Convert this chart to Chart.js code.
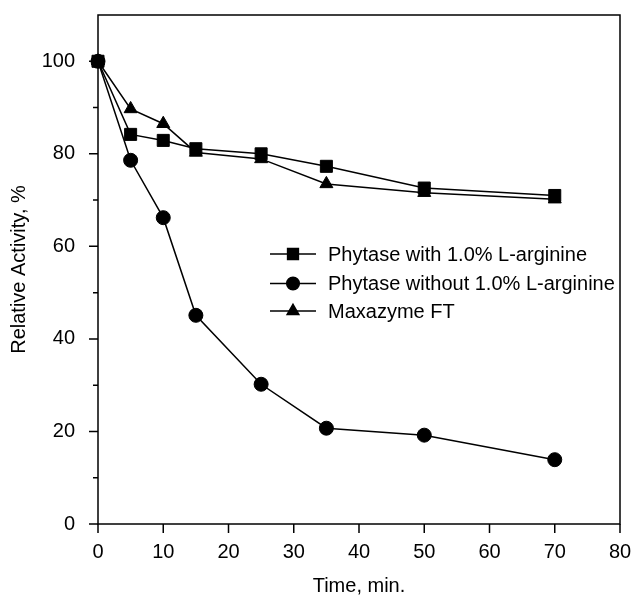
<!DOCTYPE html>
<html>
<head>
<meta charset="utf-8">
<script src="https://cdn.jsdelivr.net/npm/chart.js@4.4.1/dist/chart.umd.min.js"></script>
<style>
  html, body { margin: 0; padding: 0; background: #fff; }
  #wrap { width: 636px; height: 596px; }
</style>
</head>
<body>
<div id="wrap"><canvas id="myChart" width="636" height="596"></canvas></div>
<script>
// time points (min)
const times = [0, 5, 10, 15, 25, 35, 50, 70];

// relative activity, %
const withArginine = [100, 84.2, 82.9, 81.1, 80.0, 77.3, 72.6, 71.0];
const withoutArginine = [100, 78.6, 66.2, 45.1, 30.2, 20.7, 19.2, 13.9];
const maxazyme = [100, 89.7, 86.5, 80.3, 78.9, 73.5, 71.6, 70.2];

const seriesLabels = [
    "Phytase with 1.0% L-arginine",
    "Phytase without 1.0% L-arginine",
    "Maxazyme FT",
];

const xTicks = [0, 10, 20, 30, 40, 50, 60, 70, 80];
const yTicks = [0, 20, 40, 60, 80, 100];
const yMinorTicks = [10, 30, 50, 70, 90];

const FONT = "'Liberation Sans', Arial, sans-serif";

function toPoints(values) {
    return times.map((t, i) => ({ x: t, y: values[i] }));
}

// frame + hand drawn ticks (major / minor)
const framePlugin = {
    id: "frame",
    afterDraw(chart) {
        const ctx = chart.ctx;
        const a = chart.chartArea;
        const xs = chart.scales.x;
        const ys = chart.scales.y;
        ctx.save();
        ctx.strokeStyle = "#000";
        ctx.lineWidth = 1.5;
        ctx.strokeRect(a.left, a.top, a.right - a.left, a.bottom - a.top);

        ctx.beginPath();
        xTicks.forEach(v => {
            const px = xs.getPixelForValue(v);
            ctx.moveTo(px, a.bottom);
            ctx.lineTo(px, a.bottom + 9);
        });
        yTicks.forEach(v => {
            const py = ys.getPixelForValue(v);
            ctx.moveTo(a.left, py);
            ctx.lineTo(a.left - 9, py);
        });
        yMinorTicks.forEach(v => {
            const py = ys.getPixelForValue(v);
            ctx.moveTo(a.left, py);
            ctx.lineTo(a.left - 5, py);
        });
        ctx.stroke();
        ctx.restore();
    },
};

// legend drawn inside the plot
const legendPlugin = {
    id: "innerLegend",
    afterDatasetsDraw(chart) {
        const ctx = chart.ctx;
        const rows = [254, 283.5, 311];
        ctx.save();
        chart.data.datasets.forEach((ds, i) => {
            const y = rows[i];
            ctx.strokeStyle = "#000";
            ctx.lineWidth = 1.5;
            ctx.beginPath();
            ctx.moveTo(270, y);
            ctx.lineTo(316, y);
            ctx.stroke();
            ctx.fillStyle = "#000";
            Chart.helpers.drawPoint(ctx, {
                pointStyle: ds.pointStyle,
                radius: ds.pointRadius * 0.9,
                rotation: 0,
                borderWidth: 1,
            }, 293, y);
            ctx.fillStyle = "#000";
            ctx.font = "20px " + FONT;
            ctx.textBaseline = "middle";
            ctx.textAlign = "left";
            ctx.fillText(seriesLabels[i], 328, y + 1);
        });
        ctx.restore();
    },
};

function makeDataset(label, values, style, radius) {
    return {
        label: label,
        data: toPoints(values),
        borderColor: "#000",
        backgroundColor: "#000",
        borderWidth: 1.5,
        pointStyle: style,
        pointRadius: radius,
        pointBorderWidth: 1,
        pointBackgroundColor: "#000",
        pointBorderColor: "#000",
        tension: 0,
    };
}

// invisible tick marks only used to push the labels away from the axis
const hiddenGrid = (len) => ({
    display: true,
    drawOnChartArea: false,
    drawTicks: true,
    tickLength: len,
    color: "rgba(0,0,0,0)",
});

const ctx = document.getElementById("myChart");
new Chart(ctx, {
    type: "line",
    data: {
        datasets: [
            makeDataset(seriesLabels[0], withArginine, "rect", 8.5),
            makeDataset(seriesLabels[1], withoutArginine, "circle", 7),
            makeDataset(seriesLabels[2], maxazyme, "triangle", 7.5),
        ],
    },
    options: {
        responsive: false,
        animation: false,
        clip: false,
        layout: { padding: { left: 9, right: 16, top: 15, bottom: 0 } },
        plugins: {
            legend: { display: false },
            tooltip: { enabled: false },
        },
        scales: {
            x: {
                type: "linear",
                min: 0,
                max: 80,
                afterFit(scale) { scale.height = 72; },
                afterBuildTicks(scale) { scale.ticks = xTicks.map(v => ({ value: v })); },
                grid: hiddenGrid(16),
                border: { display: false },
                ticks: {
                    color: "#000",
                    padding: 0,
                    maxRotation: 0,
                    font: { family: FONT, size: 20 },
                },
                title: {
                    display: true,
                    text: "Time, min.",
                    color: "#000",
                    padding: 0,
                    font: { family: FONT, size: 20, lineHeight: 1 },
                },
            },
            y: {
                type: "linear",
                min: 0,
                max: 110,
                afterFit(scale) { scale.width = 89; },
                afterBuildTicks(scale) { scale.ticks = yTicks.map(v => ({ value: v })); },
                grid: hiddenGrid(23),
                border: { display: false },
                ticks: {
                    color: "#000",
                    padding: 0,
                    font: { family: FONT, size: 20 },
                },
                title: {
                    display: true,
                    text: "Relative Activity, %",
                    color: "#000",
                    padding: 0,
                    font: { family: FONT, size: 20, lineHeight: 1 },
                },
            },
        },
    },
    plugins: [framePlugin, legendPlugin],
});
</script>
</body>
</html>
